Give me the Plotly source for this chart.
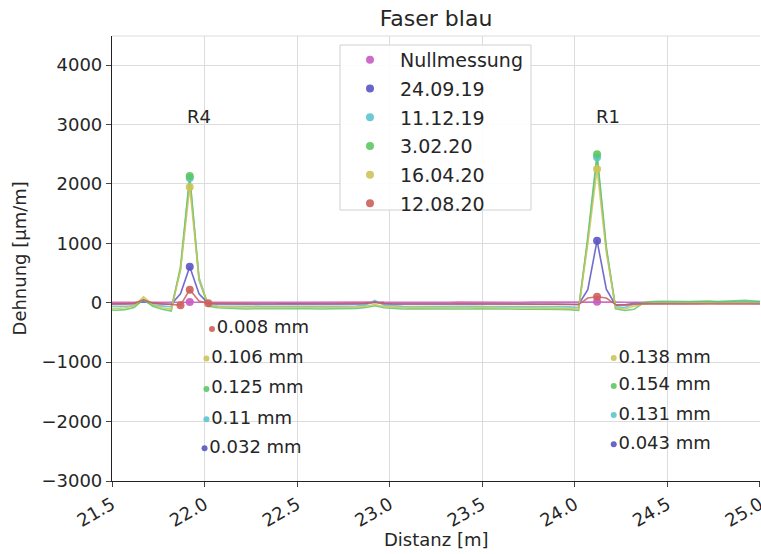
import plotly.graph_objects as go

# Distance grid [m]
distanz = [21.47, 21.52, 21.57, 21.62, 21.67, 21.72, 21.77, 21.82, 21.87, 21.92,
           21.97, 22.02, 22.07, 22.12, 22.17, 22.22, 22.27, 22.32, 22.37, 22.42,
           22.47, 22.52, 22.57, 22.62, 22.67, 22.72, 22.77, 22.82, 22.87, 22.92,
           22.97, 23.02, 23.07, 23.12, 23.17, 23.22, 23.27, 23.32, 23.37, 23.42,
           23.47, 23.52, 23.57, 23.62, 23.67, 23.72, 23.77, 23.82, 23.87, 23.92,
           23.97, 24.02, 24.07, 24.12, 24.17, 24.22, 24.27, 24.32, 24.37, 24.42,
           24.47, 24.52, 24.57, 24.62, 24.67, 24.72, 24.77, 24.82, 24.87, 24.92,
           24.97, 25.02]

serien = ["Nullmessung", "24.09.19", "11.12.19", "3.02.20", "16.04.20", "12.08.20"]
farben = ["#c95bc2", "#5a54c4", "#5cc4cf", "#5cc864", "#cdc45a", "#cc5f5a"]

null_y = [8, 10, 10, 12, 14, 10, 8, 8, 10, 14,
          12, 10, 8, 8, 10, 8, 8, 10, 10, 8,
          8, 10, 8, 8, 10, 8, 8, 10, 12, 14,
          10, 8, 8, 10, 8, 10, 8, 8, 10, 8,
          8, 10, 8, 10, 8, 8, 10, 8, 8, 10,
          8, 10, 14, 16, 14, 10, 8, 8, 10, 8,
          8, 10, 8, 8, 10, 8, 10, 8, 8, 10,
          8, 10]
blau_y = [-20, -22, -18, -15, 20, -10, -20, -25, 150, 605,
          150, -15, -20, -22, -20, -18, -20, -22, -20, -18,
          -20, -20, -22, -20, -18, -20, -22, -20, -15, 10,
          -15, -20, -22, -20, -18, -20, -20, -22, -20, -18,
          -20, -22, -20, -18, -20, -22, -25, -22, -20, -22,
          -25, -30, 220, 1045, 230, -40, -35, -15, -10, -12,
          -10, -8, -10, -12, -10, -8, -10, -12, -10, -8,
          -10, -10]
cyan_y = [-60, -62, -58, -50, 40, -40, -60, -70, 560, 2100,
          430, -50, -55, -58, -60, -62, -60, -58, -60, -62,
          -60, -58, -60, -62, -60, -58, -60, -55, -40, 40,
          -40, -55, -60, -62, -60, -58, -60, -62, -60, -58,
          -60, -62, -60, -58, -60, -62, -65, -62, -60, -65,
          -70, -80, 1050, 2450, 900, -70, -80, -20, 0, 5,
          10, 8, 5, 10, 8, 10, 12, 8, 10, 12,
          10, 8]
gruen_y = [-120, -125, -115, -80, 60, -60, -110, -140, 610, 2135,
           380, -60, -85, -95, -100, -105, -100, -98, -102, -105,
           -100, -98, -100, -104, -100, -98, -102, -95, -80, -50,
           -85, -100, -105, -100, -102, -105, -100, -98, -102, -105,
           -100, -104, -100, -102, -105, -108, -110, -108, -110, -112,
           -115, -130, 1110, 2500, 940, -100, -130, -110, 0, 20,
           25, 20, 15, 20, 25, 30, 20, 25, 30, 40,
           30, 20]
gelb_y = [-90, -95, -85, -50, 100, -30, -85, -110, 550, 1950,
          400, -40, -65, -75, -80, -82, -80, -78, -80, -84,
          -80, -78, -80, -82, -80, -78, -82, -75, -60, -30,
          -65, -80, -84, -80, -82, -84, -80, -78, -82, -84,
          -80, -84, -80, -82, -84, -86, -88, -86, -88, -90,
          -95, -110, 1000, 2250, 850, -80, -105, -60, -20, -10,
          -5, -8, -10, -5, -8, -5, -10, -5, -8, -5,
          -8, -10]
rot_y = [-20, -22, -18, -10, 50, -5, -20, -25, -40, 220,
         30, -10, -15, -18, -20, -18, -20, -22, -20, -18,
         -20, -18, -20, -22, -20, -18, -20, -18, -10, 10,
         -15, -20, -22, -20, -18, -20, -22, -20, -18, -20,
         -22, -20, -18, -20, -22, -20, -22, -24, -22, -24,
         -25, -30, 80, 100, 80, -30, -35, -20, -15, -18,
         -20, -18, -20, -22, -20, -18, -20, -22, -20, -18,
         -20, -20]
werte = [null_y, blau_y, cyan_y, gruen_y, gelb_y, rot_y]

# Marked points on the curves
punkte_x = [[21.92, 24.12], [21.92, 24.12], [21.92, 24.12], [21.92, 24.12],
            [21.92, 24.12], [21.87, 21.92, 22.02, 24.12]]
punkte_y = [[14, 16], [605, 1045], [2100, 2450], [2135, 2500],
            [1950, 2250], [-40, 220, -10, 100]]

# Displacement annotations
r4_text = ["0.008 mm", "0.106 mm", "0.125 mm", "0.11 mm", "0.032 mm"]
r4_serie = [5, 4, 3, 2, 1]
r4_x = [22.04, 22.01, 22.01, 22.01, 22.00]
r4_y = [-440, -940, -1450, -1960, -2450]
r1_text = ["0.138 mm", "0.154 mm", "0.131 mm", "0.043 mm"]
r1_serie = [4, 3, 2, 1]
r1_x = [24.21, 24.21, 24.21, 24.21]
r1_y = [-930, -1400, -1890, -2380]

sensor_namen = ["R4", "R1"]
sensor_x = [21.97, 24.18]
sensor_y = [3130, 3130]

FONT = "DejaVu Sans"
TXT = "#262626"

W, H = 761, 554
ML, MR, MT, MB = 112, 1, 36, 73
PW, PH = W - ML - MR, H - MT - MB


def px_x(p):
    return (p - ML) / PW


def px_y(p):
    return 1 - (p - MT) / PH


fig = go.Figure()

for name, farbe, y in zip(serien, farben, werte):
    fig.add_trace(go.Scatter(x=distanz, y=y, mode="lines", showlegend=False,
                             line=dict(color=farbe, width=1.6), opacity=0.85,
                             hoverinfo="skip"))

for i, (name, farbe) in enumerate(zip(serien, farben)):
    fig.add_trace(go.Scatter(x=punkte_x[i], y=punkte_y[i], mode="markers", name=name,
                             legendgroup=name,
                             marker=dict(color=farbe, size=8, opacity=0.9)))

for xs, ys, ts, ss in [(r4_x, r4_y, r4_text, r4_serie), (r1_x, r1_y, r1_text, r1_serie)]:
    fig.add_trace(go.Scatter(x=xs, y=ys, mode="markers+text", text=ts,
                             textposition="middle right", showlegend=False,
                             textfont=dict(family=FONT, size=18, color=TXT),
                             marker=dict(color=[farben[s] for s in ss], size=6, opacity=0.9)))

for n, x, y in zip(sensor_namen, sensor_x, sensor_y):
    fig.add_annotation(x=x, y=y, text=n, showarrow=False,
                       font=dict(family=FONT, size=18, color=TXT))

fig.add_annotation(x=0.5, y=-0.132, xref="paper", yref="paper", text="Distanz [m]",
                   showarrow=False, yanchor="middle",
                   font=dict(family=FONT, size=18, color=TXT))
fig.add_annotation(x=-0.142, y=0.5, xref="paper", yref="paper", text="Dehnung [µm/m]",
                   showarrow=False, textangle=-90, xanchor="center",
                   font=dict(family=FONT, size=18, color=TXT))

# legend frame
fig.add_shape(type="rect", xref="paper", yref="paper",
              x0=px_x(340), x1=px_x(531), y0=px_y(210), y1=px_y(45),
              line=dict(color="#d0d0d0", width=1), fillcolor="rgba(255,255,255,0.9)",
              layer="above")

fig.update_layout(
    width=W, height=H,
    margin=dict(l=ML, r=MR, t=MT, b=MB, autoexpand=False),
    paper_bgcolor="white", plot_bgcolor="white",
    font=dict(family=FONT, size=18, color=TXT),
    title=dict(text="Faser blau", x=0.573, xanchor="center", y=1 - 18 / 554,
               yanchor="middle", yref="container",
               font=dict(family=FONT, size=22, color=TXT)),
    legend=dict(x=px_x(340), y=px_y(41), xanchor="left", yanchor="top",
                bgcolor="rgba(0,0,0,0)", borderwidth=0,
                itemwidth=50,
                font=dict(family=FONT, size=19, color=TXT), tracegroupgap=1),
    showlegend=True,
)
fig.update_xaxes(range=[21.5, 25.0001], dtick=0.5, tick0=21.5, tickformat=".1f",
                 tickangle=-30, showgrid=True, gridcolor="#dcdcdc", gridwidth=1,
                 zeroline=False, showline=True, linecolor="#222222", linewidth=1.2,
                 mirror=False, ticks="outside", ticklen=5, tickcolor="#444444",
                 ticklabeloverflow="allow", automargin=False,
                 tickfont=dict(family=FONT, size=18, color=TXT))
fig.update_yaxes(range=[-3000, 4490], dtick=1000, tick0=0,
                 showgrid=True, gridcolor="#dcdcdc", gridwidth=1,
                 zeroline=False, showline=True, linecolor="#222222", linewidth=1.2,
                 ticks="outside", ticklen=5, tickcolor="#444444", automargin=False,
                 tickfont=dict(family=FONT, size=18, color=TXT))
fig.add_shape(type="line", xref="paper", yref="paper", x0=0, x1=1, y0=1, y1=1,
              line=dict(color="#dcdcdc", width=1))

fig.write_html("out.html")
